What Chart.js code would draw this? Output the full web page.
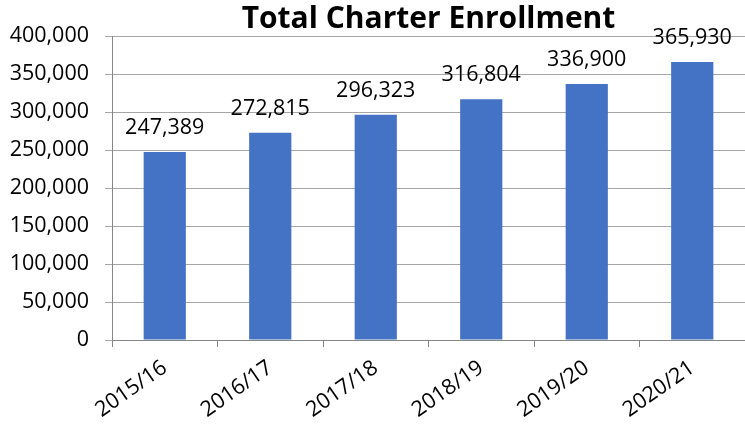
<!DOCTYPE html>
<html>
<head>
<meta charset="utf-8">
<script src="https://cdn.jsdelivr.net/npm/chart.js@4/dist/chart.umd.min.js"></script>
<style>
    html, body { margin: 0; padding: 0; background: #fff; }
    #wrap { width: 745px; height: 427px; position: relative; }
</style>
</head>
<body>
<div id="wrap"><canvas id="chEnrollment"></canvas></div>
<script>
    // Data
    const years = ['2015/16', '2016/17', '2017/18', '2018/19', '2019/20', '2020/21'];
    const enrollment = [247389, 272815, 296323, 316804, 336900, 365930];
    const yTicks = [0, 50000, 100000, 150000, 200000, 250000, 300000, 350000, 400000];

    const FONT = '"Open Sans", "Noto Sans", sans-serif';
    const TXT = 21.5;
    const niceNumber = n => Number(n).toLocaleString('en-US');

    // Etiquetas de valor encima de cada barra
    const valueLabels = {
        id: 'valueLabels',
        afterDatasetsDraw(chart) {
            const ctx = chart.ctx;
            const meta = chart.getDatasetMeta(0);
            ctx.save();
            ctx.font = `${TXT}px ${FONT}`;
            ctx.fillStyle = '#000';
            ctx.textAlign = 'center';
            ctx.textBaseline = 'alphabetic';
            meta.data.forEach((bar, i) => {
                ctx.fillText(niceNumber(chart.data.datasets[0].data[i]), bar.x, bar.y - 18);
            });
            ctx.restore();
        }
    };

    new Chart(document.getElementById('chEnrollment'), {
        type: 'bar',
        data: {
            labels: years,
            datasets: [{
                label: 'Total Charter Enrollment',
                data: enrollment,
                backgroundColor: '#4472C4',
                borderWidth: 0,
                categoryPercentage: 1,
                barPercentage: 0.4
            }]
        },
        options: {
            responsive: true,
            maintainAspectRatio: false,
            animation: false,
            layout: { padding: { top: 3, right: 0, bottom: 0, left: 0 } },
            plugins: {
                legend: { display: false },
                tooltip: { enabled: false },
                title: {
                    display: true,
                    text: 'Total Charter Enrollment',
                    fullSize: false,
                    color: '#000',
                    font: { family: FONT, size: 30, weight: 'bold', lineHeight: 1.1 },
                    padding: { top: 0, bottom: 0 }
                }
            },
            scales: {
                x: {
                    afterFit(scale) { scale.height = 87; },
                    grid: {
                        offset: true,
                        drawOnChartArea: false,
                        drawTicks: true,
                        tickLength: 7,
                        color: '#868686'
                    },
                    border: { color: '#868686', width: 1 },
                    ticks: {
                        color: '#000',
                        font: { family: FONT, size: TXT },
                        maxRotation: 35,
                        minRotation: 35,
                        padding: 8,
                        autoSkip: false
                    }
                },
                y: {
                    min: 0,
                    max: 400000,
                    afterFit(scale) { scale.width = 112; },
                    afterBuildTicks(scale) { scale.ticks = yTicks.map(v => ({ value: v })); },
                    grid: {
                        color: '#a6a6a6',
                        tickLength: 7,
                        drawTicks: true
                    },
                    border: { color: '#868686', width: 1 },
                    ticks: {
                        color: '#000',
                        font: { family: FONT, size: TXT },
                        padding: 16,
                        callback: v => niceNumber(v)
                    }
                }
            }
        },
        plugins: [valueLabels]
    });
</script>
</body>
</html>
